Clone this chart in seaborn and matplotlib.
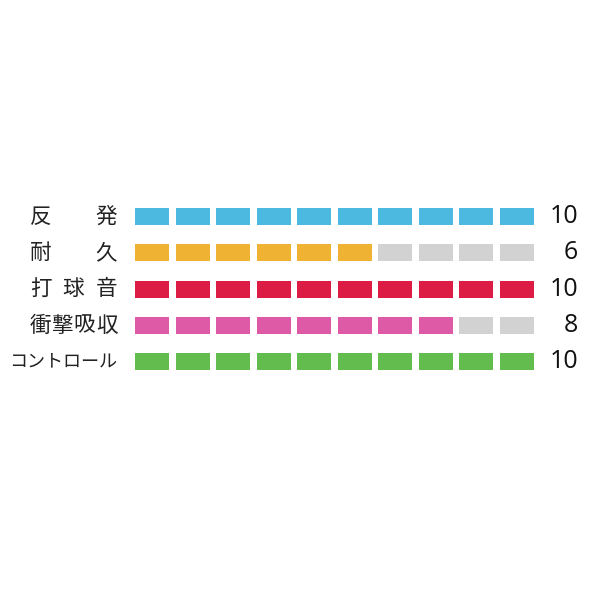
import matplotlib
matplotlib.use("Agg")
import matplotlib.pyplot as plt
import matplotlib.transforms as mtransforms
import seaborn as sns
import pandas as pd

# data
categories = ['反発', '耐久', '打球音', '衝撃吸収', 'コントロール']
scores = [10, 6, 10, 8, 10]
max_score = 10
bar_colors = ['#4cb9e1', '#f0b233', '#dc1c45', '#de5aa7', '#63bd4e']
empty_color = '#d2d2d2'

sns.set_style("white")
plt.rcParams['font.family'] = ['Noto Sans CJK JP', 'DejaVu Sans']

# one row per segment
rows = []
for r, (cat, sc) in enumerate(zip(categories, scores)):
    for i in range(max_score):
        rows.append({'row': r, 'seg': i,
                     'color': bar_colors[r] if i < sc else empty_color})
cells = pd.DataFrame(rows)

fig = plt.figure(figsize=(6, 6), dpi=100)
ax = fig.add_axes([0.225, 0.3667, 0.665, 0.3025])

seg_w = 0.84
ax.barh(cells['row'], seg_w, left=cells['seg'], height=0.47,
        color=cells['color'], linewidth=0)
ax.set_xlim(0, max_score - 1 + seg_w)
ax.set_ylim(len(categories) - 0.5, -0.5)
ax.axis('off')

# labels, spread over a fixed width like the original
trans = mtransforms.blended_transform_factory(fig.transFigure, ax.transData)
x0, x1 = 30 / 600, 117 / 600
ch_w = 21 / 600
for r, cat in enumerate(categories):
    if len(cat) > 4:
        fig.text(x1, r, cat, transform=trans, ha='right', va='center',
                 fontsize=13, color='#222222')
        continue
    n = len(cat)
    for k, ch in enumerate(cat):
        cx = x0 + ch_w / 2 + k * (x1 - x0 - ch_w) / (n - 1)
        fig.text(cx, r, ch, transform=trans, ha='center', va='center',
                 fontsize=15.5, color='#222222')

for r, sc in enumerate(scores):
    fig.text(578 / 600, r, str(sc), transform=trans, ha='right', va='center',
             fontsize=18, color='#111111',
             family=['Liberation Sans Narrow', 'Open Sans', 'DejaVu Sans'])

fig.savefig('out.png', dpi=100, facecolor='white')
